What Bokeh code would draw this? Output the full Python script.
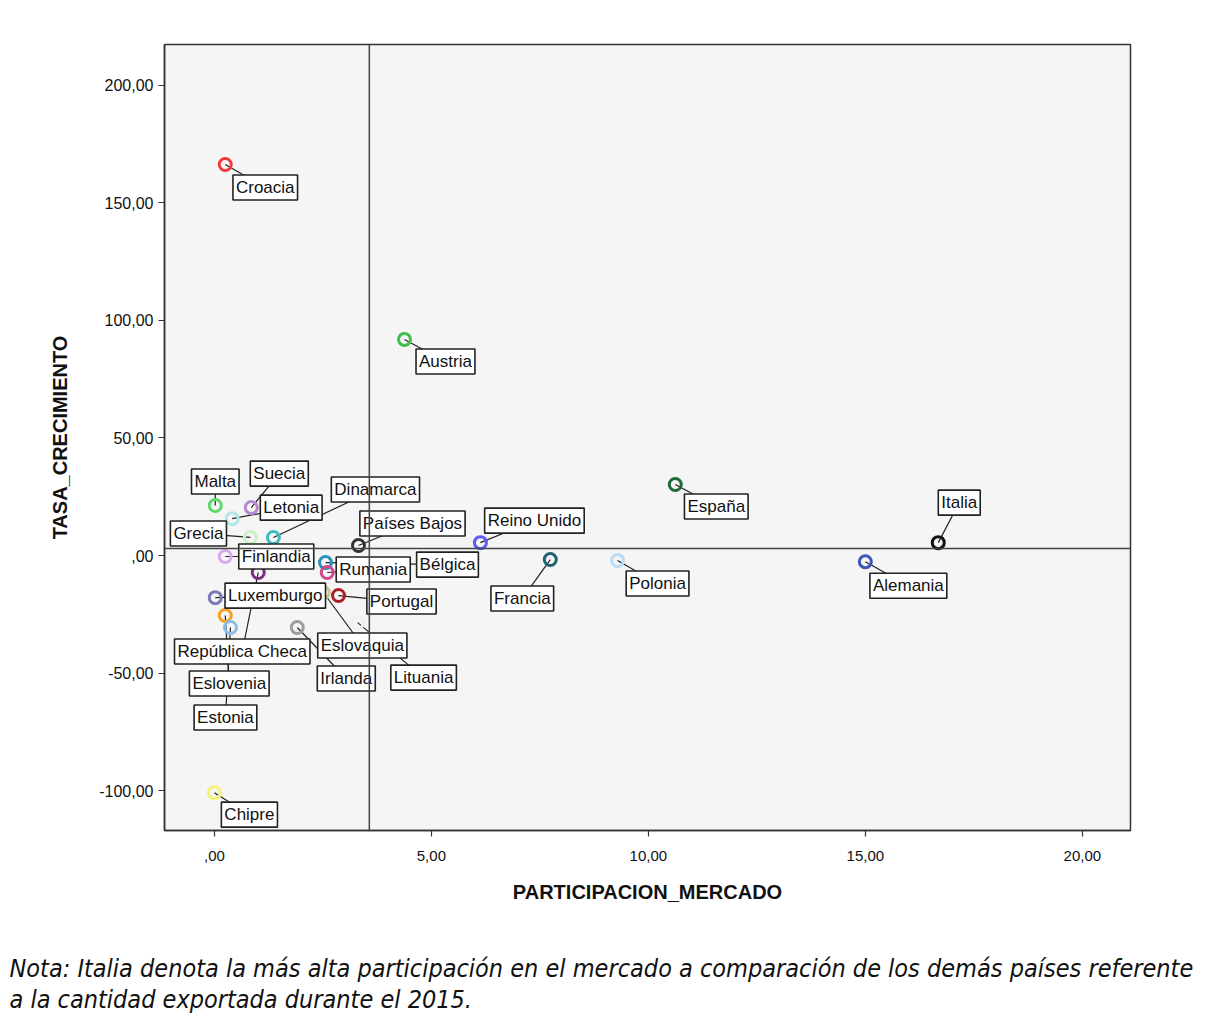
from bokeh.plotting import figure
from bokeh.models import Range1d, Span, Label, Title
from bokeh.embed import file_html
from bokeh.resources import INLINE

# ---- data ----
countries = ["Croacia", "Austria", "Malta", "Suecia", "Letonia", "Grecia", "Dinamarca",
             "Finlandia", "República Checa", "Países Bajos", "Bélgica", "Rumania",
             "Reino Unido", "España", "Italia", "Francia", "Polonia", "Alemania",
             "Luxemburgo", "Eslovenia", "Estonia", "Portugal", "Lituania", "Irlanda",
             "Chipre", "Eslovaquia"]
participacion = [0.25, 4.38, 0.02, 0.85, 0.41, 0.83, 1.36,
                 0.25, 1.01, 3.32, 2.56, 2.60,
                 6.13, 10.62, 16.68, 7.74, 9.29, 15.00,
                 0.02, 0.25, 0.37, 2.86, 3.30, 1.91,
                 0.00, 2.51]
crecimiento = [166.3, 91.9, 21.3, 20.4, 15.7, 7.7, 7.7,
               -0.4, -7.2, 4.3, -3.0, -7.2,
               5.5, 30.2, 5.5, -1.7, -2.1, -2.6,
               -17.9, -25.5, -30.6, -17.0, -28.5, -30.6,
               -100.8, -15.7]
colors = ["#ef3a40", "#3fbf4c", "#5ed86a", "#b28bd0", "#b0e8ea", "#c9f2c4", "#3cbcc0",
          "#d9a9ee", "#7b2f7d", "#333333", "#2a92b8", "#cf4a8e",
          "#5a5aff", "#1e6b39", "#111111", "#1f6272", "#b8dbf7", "#3c57b8",
          "#7b7bb8", "#f7a11f", "#8cbde6", "#b01e25", "#f0f0f0", "#9c9c9c",
          "#f7f27a", "#c8c890"]

x_ticks = [0, 5, 10, 15, 20]
x_tick_labels = [",00", "5,00", "10,00", "15,00", "20,00"]
y_ticks = [-100, -50, 0, 50, 100, 150, 200]
y_tick_labels = ["-100,00", "-50,00", ",00", "50,00", "100,00", "150,00", "200,00"]

mean_participacion = 3.57
mean_crecimiento = 3.0

x_title = "PARTICIPACION_MERCADO"
y_title = "TASA_CRECIMIENTO"
note_1 = "Nota: Italia denota la más alta participación en el mercado a comparación de los demás países referente"
note_2 = "a la cantidad exportada durante el 2015."

# ---- layout (label box centre offsets from the point, screen px, +down) ----
label_dx = [40, 41, 0, 28, 59, -52, 102,
            51, -16, 54, 122, 46,
            54, 41, 21, -28, 40, 43,
            60, 4, -5, 63, 66, 49,
            35, 39]
label_dy = [23, 22, -24, -34, -11, -4, -48,
            0, 79, -22, 2, -3,
            -22, 22, -40, 39, 23, 24,
            -2, 68, 90, 6, 55, 51,
            22, 53]

FW, FH = 966, 786
X0, X1 = -1.15, 21.11
Y0, Y1 = -116.9, 217.3
ux = (X1 - X0) / FW
uy = (Y1 - Y0) / FH

p = figure(frame_width=FW, frame_height=FH,
           x_range=Range1d(X0, X1), y_range=Range1d(Y0, Y1),
           output_backend="svg", toolbar_location=None,
           min_border_left=164, min_border_top=44, min_border_right=70, min_border_bottom=0)

p.background_fill_color = "#f5f5f5"
p.border_fill_color = "white"
p.outline_line_color = "#333333"
p.outline_line_width = 1.5
p.xgrid.visible = False
p.ygrid.visible = False

for ax in (p.xaxis[0], p.yaxis[0]):
    ax.minor_tick_line_color = None
    ax.major_tick_in = 0
    ax.major_tick_out = 6
    ax.major_tick_line_color = "#333333"
    ax.major_tick_line_width = 1.2
    ax.axis_line_color = "#333333"
    ax.axis_line_width = 1.5
    ax.major_label_text_color = "#111111"
    ax.axis_label_text_color = "#111111"
    ax.axis_label_text_font = "Liberation Sans"
    ax.axis_label_text_font_style = "bold"

p.xaxis.ticker = x_ticks
p.xaxis.major_label_overrides = dict(zip(x_ticks, x_tick_labels))
p.xaxis.major_label_text_font = "Liberation Sans"
p.xaxis.major_label_text_font_size = "15px"
p.xaxis.major_label_standoff = 14
p.xaxis.axis_label = x_title
p.xaxis.axis_label_text_font_size = "20px"
p.xaxis.axis_label_standoff = 17

p.yaxis.ticker = y_ticks
p.yaxis.major_label_overrides = dict(zip(y_ticks, y_tick_labels))
p.yaxis.major_label_text_font = "Liberation Sans"
p.yaxis.major_label_text_font_size = "16px"
p.yaxis.major_label_standoff = 5
p.yaxis.axis_label = y_title
p.yaxis.axis_label_text_font_size = "20px"
p.yaxis.axis_label_standoff = 25

# leader lines
lx = [x + dx * ux for x, dx in zip(participacion, label_dx)]
ly = [y - dy * uy for y, dy in zip(crecimiento, label_dy)]
p.segment(x0=participacion, y0=crecimiento, x1=lx, y1=ly, line_color="#222222", line_width=1.2)

# points
p.scatter(x=participacion, y=crecimiento, marker="circle", size=12,
          fill_alpha=0, line_color=colors, line_width=3)

# label boxes
for name, x, y in zip(countries, lx, ly):
    p.add_layout(Label(x=x, y=y, text=name, text_align="center", text_baseline="middle",
                       text_font="Liberation Sans", text_font_size="17px", text_color="#111111",
                       background_fill_color="white", border_line_color="#222222",
                       border_line_width=1.6, padding=3))

# reference lines (drawn above the boxes)
p.add_layout(Span(location=mean_participacion, dimension="height",
                  line_color="#444444", line_width=1.5))
p.add_layout(Span(location=mean_crecimiento, dimension="width",
                  line_color="#444444", line_width=1.5))

# note
p.add_layout(Title(text=note_1 + "\n" + note_2, align="left", offset=-155, standoff=92,
                   text_font="DejaVu Sans Condensed", text_font_style="italic",
                   text_line_height=1.1,
                   text_font_size="25px", text_color="#111111"), "below")

open("out.html", "w").write(file_html(p, INLINE))
